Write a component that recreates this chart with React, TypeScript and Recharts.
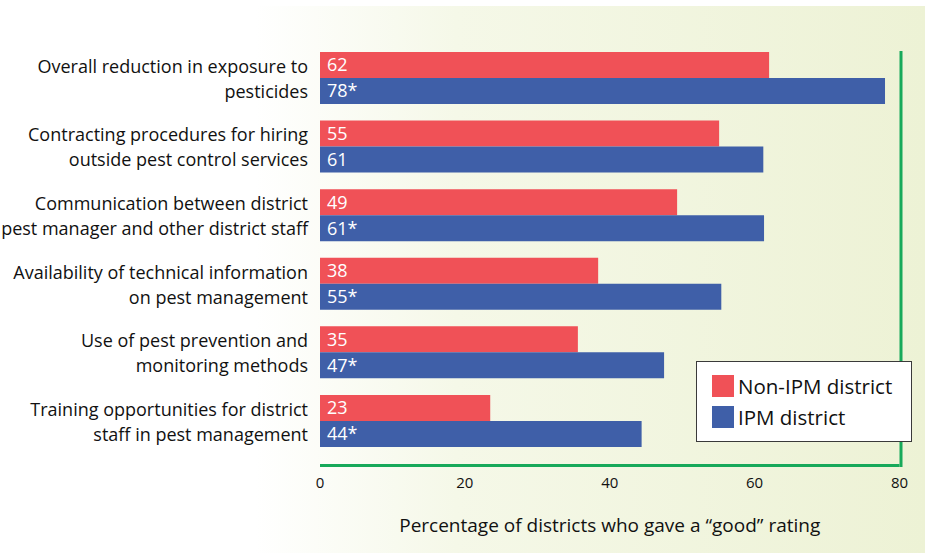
import React from "react";
import { Bar, BarChart, LabelList, Legend, ReferenceLine, XAxis, YAxis } from "recharts";

const categories = [
  "Overall reduction in exposure to\npesticides",
  "Contracting procedures for hiring\noutside pest control services",
  "Communication between district\npest manager and other district staff",
  "Availability of technical information\non pest management",
  "Use of pest prevention and\nmonitoring methods",
  "Training opportunities for district\nstaff in pest management"
];
const nonIpmValues = [62, 55.1, 49.3, 38.4, 35.6, 23.5];
const ipmValues = [78, 61.2, 61.3, 55.4, 47.5, 44.4];
const nonIpmLabels = ["62", "55", "49", "38", "35", "23"];
const ipmLabels = ["78*", "61", "61*", "55*", "47*", "44*"];
const xTicks = [0, 20, 40, 60, 80];

const RED = "#f05157";
const BLUE = "#3f5fa8";
const GREEN = "#17a95a";

const data = categories.map((name, i) => ({
  name,
  nonIpm: nonIpmValues[i],
  ipm: ipmValues[i],
  nonIpmLabel: nonIpmLabels[i],
  ipmLabel: ipmLabels[i]
}));

function CategoryTick({ x, y, payload }: any) {
  const lines = String(payload.value).split("\n");
  return (
    <text x={x} y={y} textAnchor="end" fontSize={18} fill="#111">
      {lines.map((line, i) => (
        <tspan key={i} x={x} y={y + (i - (lines.length - 1) / 2) * 25} dominantBaseline="central">
          {line}
        </tspan>
      ))}
    </text>
  );
}

function LegendBox() {
  const items = [
    { label: "Non-IPM district", color: RED },
    { label: "IPM district", color: BLUE }
  ];
  return (
    <div
      style={{
        width: 216,
        height: 81,
        boxSizing: "border-box",
        border: "1.5px solid #3a3a3a",
        background: "#fff",
        padding: "13px 0 0 15px"
      }}
    >
      {items.map((item) => (
        <div key={item.label} style={{ display: "flex", alignItems: "center", height: 22, marginBottom: 9 }}>
          <span style={{ width: 22, height: 22, background: item.color, marginRight: 4 }} />
          <span style={{ fontSize: 20.5, color: "#111", lineHeight: "22px" }}>{item.label}</span>
        </div>
      ))}
    </div>
  );
}

// right-hand frame line starts a little below the top of the plot
function FrameLine(props: any) {
  const top = Math.min(props.y1, props.y2);
  const bottom = Math.max(props.y1, props.y2);
  return (
    <line
      x1={props.x1 + 1.5}
      x2={props.x2 + 1.5}
      y1={top + 7}
      y2={bottom + 1.5}
      stroke={GREEN}
      strokeWidth={3}
    />
  );
}

export default function App() {
  return (
    <div
      style={{
        position: "fixed",
        left: 0,
        top: 0,
        width: 925,
        height: 554,
        background: "#fff",
        fontFamily: "'Open Sans', sans-serif"
      }}
    >
      <div
        style={{
          position: "absolute",
          left: 255,
          top: 6,
          width: 670,
          height: 547,
          background: "linear-gradient(to right, #ffffff 0%, #f5f8e8 30%, #edf2d5 100%)"
        }}
      />
      <div style={{ position: "absolute", left: 0, top: 0 }}>
        <BarChart
          width={925}
          height={554}
          data={data}
          layout="vertical"
          margin={{ top: 44, right: 25.5, bottom: 18.5, left: 0 }}
          barSize={26}
          barGap={0}
        >
          <XAxis
            type="number"
            domain={[0, 80]}
            ticks={xTicks}
            height={70}
            axisLine={{ stroke: GREEN, strokeWidth: 3 }}
            tickLine={false}
            tickSize={0}
            tickMargin={12}
            tick={{ fontSize: 15, fill: "#111" }}
            label={{
              value: "Percentage of districts who gave a \u201cgood\u201d rating",
              position: "insideBottom",
              offset: 4,
              fontSize: 19,
              fill: "#111"
            }}
          />
          <YAxis
            type="category"
            dataKey="name"
            width={320}
            padding={{ top: 0, bottom: 10 }}
            axisLine={false}
            tickLine={false}
            tickSize={0}
            tickMargin={12}
            interval={0}
            tick={<CategoryTick />}
          />
          <ReferenceLine x={80} shape={(props: any) => <FrameLine {...props} />} />
          <Legend
            verticalAlign="middle"
            align="center"
            wrapperStyle={{ left: 696, top: 361, width: 216, height: 81 }}
            content={() => <LegendBox />}
          />
          <Bar dataKey="nonIpm" name="Non-IPM district" fill={RED} isAnimationActive={false}>
            <LabelList dataKey="nonIpmLabel" position="insideLeft" offset={7} fill="#fff" fontSize={18} />
          </Bar>
          <Bar dataKey="ipm" name="IPM district" fill={BLUE} isAnimationActive={false}>
            <LabelList dataKey="ipmLabel" position="insideLeft" offset={7} fill="#fff" fontSize={18} />
          </Bar>
        </BarChart>
      </div>
    </div>
  );
}
